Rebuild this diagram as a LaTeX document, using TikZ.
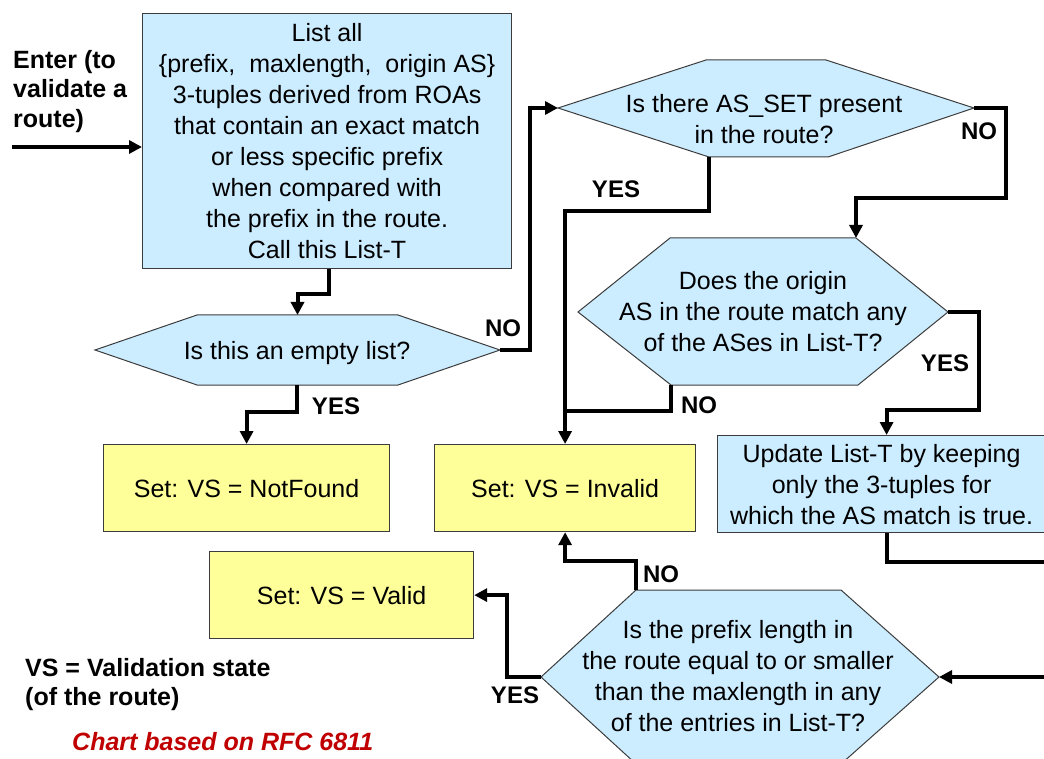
\documentclass[tikz,border=0pt]{standalone}
\usepackage{fontspec}
\setmainfont{Liberation Sans}
\usetikzlibrary{arrows.meta}
\definecolor{boxblue}{RGB}{204,236,255}
\definecolor{boxyellow}{RGB}{255,255,153}
\definecolor{edgegray}{RGB}{60,60,60}
\definecolor{notered}{RGB}{192,0,0}
\tikzset{
  bluebox/.style={draw=edgegray, line width=1.2pt, fill=boxblue, inner sep=0pt, align=center, font=\fontsize{25}{31}\selectfont},
  yellowbox/.style={draw=edgegray, line width=1.2pt, fill=boxyellow, inner sep=0pt, align=center, font=\fontsize{25}{31}\selectfont},
  hexa/.style={draw=edgegray, line width=1pt, fill=boxblue, line join=miter},
  hextext/.style={inner sep=0pt, align=center, font=\fontsize{25}{31}\selectfont},
  conn/.style={line width=4pt, -{Triangle[length=13pt,width=13pt]}},
  plainline/.style={line width=4pt},
  lbl/.style={inner sep=0pt, font=\fontsize{24}{28}\selectfont\bfseries},
  note/.style={inner sep=0pt, align=left, font=\fontsize{25}{29.5}\selectfont\bfseries},
}
\begin{document}
\begin{tikzpicture}[x=1pt, y=-1pt]
\useasboundingbox (0,0) rectangle (1044,759);

% boxes
\node[bluebox, minimum width=369pt, minimum height=255pt, anchor=north west] (list) at (142,13)
  {List all\\\{prefix, \ maxlength, \ origin AS\}\\3-tuples derived from ROAs\\that contain an exact match\\or less specific prefix\\when compared with\\the prefix in the route.\\Call this List-T};
\node[yellowbox, minimum width=286pt, minimum height=87pt, anchor=north west] (notfound) at (103,444) {Set: VS = NotFound};
\node[yellowbox, minimum width=261pt, minimum height=87pt, anchor=north west] (invalid) at (434,444) {Set: VS = Invalid};
\node[yellowbox, minimum width=264pt, minimum height=87pt, anchor=north west] (valid) at (209,551) {Set: VS = Valid};
\node[bluebox, minimum width=328pt, minimum height=97pt, anchor=north west] (update) at (717,435)
  {Update List-T by keeping\\only the 3-tuples for\\which the AS match is true.};

% decision 1
\coordinate (d1l) at (95,350);
\coordinate (d1tl) at (197,315);
\coordinate (d1tr) at (398,315);
\coordinate (d1r) at (500,350);
\coordinate (d1br) at (398,385);
\coordinate (d1bl) at (197,385);
\coordinate (d1t) at (297.5,315);
\coordinate (d1b) at (297,385);
\draw[hexa] (d1l) -- (d1tl) -- (d1tr) -- (d1r) -- (d1br) -- (d1bl) -- cycle;
\node[hextext] (d1) at (297,353) {Is this an empty list?};

% decision 2
\coordinate (d2l) at (558,108);
\coordinate (d2tl) at (706,60);
\coordinate (d2tr) at (826,60);
\coordinate (d2r) at (974,108);
\coordinate (d2br) at (828,157);
\coordinate (d2bl) at (709,157);
\draw[hexa] (d2l) -- (d2tl) -- (d2tr) -- (d2r) -- (d2br) -- (d2bl) -- cycle;
\node[hextext] (d2) at (764,119.5) {Is there AS\_SET present\\in the route?};

% decision 3
\coordinate (d3l) at (578,312);
\coordinate (d3tl) at (670,238);
\coordinate (d3tr) at (856,238);
\coordinate (d3r) at (948,312);
\coordinate (d3br) at (858,385);
\coordinate (d3bl) at (671,385);
\draw[hexa] (d3l) -- (d3tl) -- (d3tr) -- (d3r) -- (d3br) -- (d3bl) -- cycle;
\node[hextext] (d3) at (763,312) {Does the origin\\AS in the route match any\\of the ASes in List-T?};

% decision 4
\coordinate (d4l) at (541,677);
\coordinate (d4tl) at (636,590);
\coordinate (d4tr) at (841,590);
\coordinate (d4r) at (939,677);
\coordinate (d4br) at (841,764);
\coordinate (d4bl) at (636,764);
\draw[hexa] (d4l) -- (d4tl) -- (d4tr) -- (d4r) -- (d4br) -- (d4bl) -- cycle;
\node[hextext] (d4) at (738,676) {Is the prefix length in\\the route equal to or smaller\\than the maxlength in any\\of the entries in List-T?};

% texts
\node[note, anchor=north west] (entertext) at (13,50) {Enter (to\\validate a\\route)};
\coordinate (enter) at (12,147);
\node[note, anchor=north west] (vs) at (25,658) {VS = Validation state\\(of the route)};
\node[inner sep=0pt, anchor=base west, text=notered, font=\fontsize{25}{30}\selectfont\bfseries\itshape] (chart) at (72,750) {Chart based on RFC 6811};

% connectors
\draw[conn] (enter) -- (enter -| list.west);
\draw[conn] ([xshift=1.5pt]list.south) -- ++(0,25) -| (d1t);
\draw[conn] (d1b) -- ++(0,27) -| (notfound.north);
\draw[conn] (d1r) -- ++(30,0) |- (d2l);
\draw[conn] (d2bl) -- ++(0,54) -| (invalid.north);
\draw[plainline] (d3bl) -- ++(0,26) -- ++(-106.5,0);
\draw[conn] (d2r) -- ++(32,0) -- ++(0,90) -| (d3tr);
\draw[conn] (d3r) -- ++(31,0) -- ++(0,98) -| ([xshift=5pt]update.north);
\draw[conn] ([xshift=5pt]update.south) -- ++(0,29) -- ++(170,0) |- (d4r);
\draw[conn] (d4tl) -- ++(0,-29) -| (invalid.south);
\draw[conn] (d4l) -- ++(-34,0) |- (valid.east);

% labels
\node[lbl] (no1) at (503,328) {NO};
\node[lbl] (yes1) at (336,406) {YES};
\node[lbl] (yes2) at (616,189) {YES};
\node[lbl] (no2) at (979,131) {NO};
\node[lbl] (yes3) at (945,363) {YES};
\node[lbl] (no3) at (699,405) {NO};
\node[lbl] (no4) at (661,574) {NO};
\node[lbl] (yes4) at (515,695) {YES};
\end{tikzpicture}
\end{document}
